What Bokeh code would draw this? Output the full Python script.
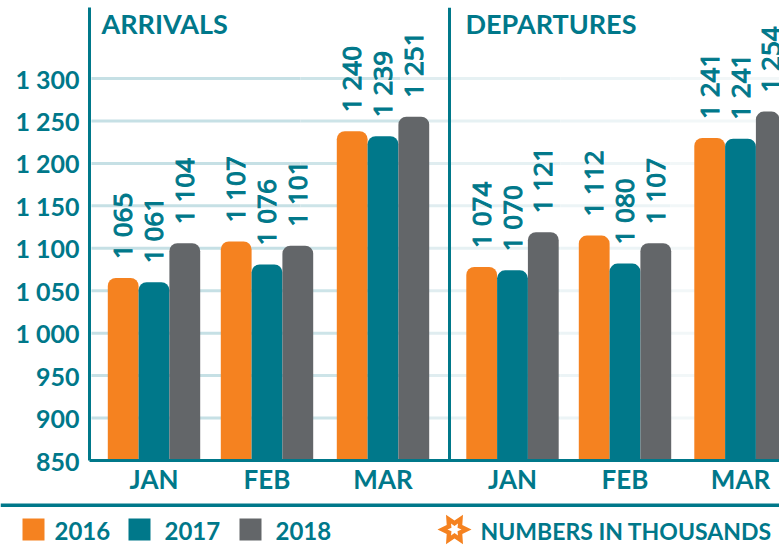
from bokeh.plotting import figure
from bokeh.layouts import column
from bokeh.embed import file_html
from bokeh.resources import INLINE
from bokeh.models import ColumnDataSource, Range1d, FixedTicker, Label, Span
from bokeh.core.properties import value
import math

months = ["JAN", "FEB", "MAR"]
years = ["2016", "2017", "2018"]
y_ticks = [850, 900, 950, 1000, 1050, 1100, 1150, 1200, 1250, 1300]
y_tick_labels = ["850", "900", "950", "1 000", "1 050", "1 100", "1 150", "1 200", "1 250", "1 300"]

arrivals_labels = {"2016": ["1 065", "1 107", "1 240"], "2017": ["1 061", "1 076", "1 239"], "2018": ["1 104", "1 101", "1 251"]}
departures_labels = {"2016": ["1 074", "1 112", "1 241"], "2017": ["1 070", "1 080", "1 241"], "2018": ["1 121", "1 107", "1 254"]}
# Bar heights as drawn in the picture (the drawn bars differ slightly from their printed numbers)
arrivals_bars = {"2016": [1065, 1108, 1238], "2017": [1060, 1081, 1232], "2018": [1106, 1103, 1255]}
departures_bars = {"2016": [1078, 1115, 1230], "2017": [1074, 1082, 1229], "2018": [1119, 1106, 1261]}

TEAL = "#00788A"
colors = {"2016": "#F58220", "2017": "#00788A", "2018": "#636669"}
W, H = 779, 545
TOP_H = 500
FONT = "Lato"
FX, FY = 89, 460  # frame's lower-left corner on the page

p = figure(width=W, height=TOP_H, output_backend="svg", toolbar_location=None,
           x_range=Range1d(89, 779), y_range=Range1d(850, 850 + 453 * 450 / 382),
           min_border_left=89, min_border_right=0, min_border_top=7, min_border_bottom=TOP_H - FY,
           outline_line_color=None, frame_align=False)
p.xgrid.visible = False
p.ygrid.visible = False

# Gridlines, fading from left to right
steps = [(91, 300, "#C6E0E5"), (300, 400, "#CDE4E8"), (400, 449, "#E0EDF0"), (449, 560, "#E6F1F3"),
         (560, 670, "#ECF4F6"), (670, 779, "#F2F7F8")]
for x0, x1, c in steps:
    p.segment(x0=[x0] * len(y_ticks[1:]), x1=[x1] * len(y_ticks[1:]), y0=y_ticks[1:], y1=y_ticks[1:], line_color=c, line_width=3)

# Axes
p.yaxis.ticker = FixedTicker(ticks=y_ticks)
p.yaxis.major_label_overrides = dict(zip(y_ticks, y_tick_labels))
p.yaxis.major_tick_line_color = None
p.yaxis.minor_tick_line_color = None
p.yaxis.axis_line_color = TEAL
p.yaxis.axis_line_width = 3
p.yaxis.major_label_text_color = TEAL
p.yaxis.major_label_text_font = FONT
p.yaxis.major_label_text_font_size = "25px"
p.yaxis.major_label_text_font_style = "bold"
p.yaxis.major_label_standoff = 4

group_centers = [153.5, 266.5, 382.5, 512, 624.5, 740]
p.xaxis.ticker = FixedTicker(ticks=group_centers)
p.xaxis.major_label_overrides = dict(zip(group_centers, months * 2))
p.xaxis.major_tick_line_color = None
p.xaxis.minor_tick_line_color = None
p.xaxis.axis_line_color = TEAL
p.xaxis.axis_line_width = 3
p.xaxis.major_label_text_color = TEAL
p.xaxis.major_label_text_font = FONT
p.xaxis.major_label_text_font_size = "26px"
p.xaxis.major_label_text_font_style = "bold"
p.xaxis.major_label_standoff = -4

# Bars and labels
bw = 30.8
offsets = {"2016": -bw, "2017": 0, "2018": bw}
for yr in years:
    xs = [c + offsets[yr] for c in group_centers]
    tops = arrivals_bars[yr] + departures_bars[yr]
    labels = arrivals_labels[yr] + departures_labels[yr]
    src = ColumnDataSource(dict(x=xs, top=tops, label=labels))
    p.vbar(x="x", top="top", bottom=850, width=bw, source=src, fill_color=colors[yr],
           line_color=None, border_radius={"top_left": 8, "top_right": 8, "bottom_left": 0, "bottom_right": 0})
    p.text(x="x", y="top", text="label", source=src, angle=math.pi / 2, text_align="left", text_baseline="middle",
           y_offset=-19, x_offset=-1, text_color=TEAL, text_font=value("Noto Sans"), text_font_size="26px",
           text_outline_color=TEAL)

# Panel divider
p.add_layout(Span(location=449, dimension="height", line_color=TEAL, line_width=3))

for txt, x in [("ARRIVALS", 101), ("DEPARTURES", 465)]:
    p.add_layout(Label(x=x - FX, y=FY - 39, x_units="screen", y_units="screen", text=txt, text_color=TEAL,
                       text_font=FONT, text_font_size="27px", text_font_style="bold"))

# Footer: a figure of its own, in page pixels
f = figure(width=W, height=H - TOP_H, output_backend="svg", toolbar_location=None,
           x_range=Range1d(0, W), y_range=Range1d(H, TOP_H),
           min_border=0, outline_line_color=None, x_axis_location=None, y_axis_location=None, frame_align=False)
f.grid.visible = False

f.quad(left=0, right=W, top=503, bottom=506.5, fill_color=TEAL, line_color=None)

swatch_x = [22, 128, 239]
label_x = [54, 164, 275]
for x, tx, yr in zip(swatch_x, label_x, years):
    f.quad(left=x, right=x + 22, top=518, bottom=540, fill_color=colors[yr], line_color=None)
    f.text(x=[tx], y=[530], text=[yr], text_color=TEAL, text_font=value(FONT), text_font_size="24px",
           text_font_style="bold", text_baseline="middle", text_align="left")

f.text(x=[480], y=[530], text=["NUMBERS IN THOUSANDS"], text_color=TEAL, text_font=value(FONT), text_font_size="23px",
       text_font_style="bold", text_baseline="middle", text_align="left")

cx, cy = 454, 529
def star(r_out, r_in):
    xs, ys = [], []
    for k in range(12):
        r = r_out if k % 2 == 0 else r_in
        a = math.radians(30 * k)
        xs.append(cx + r * math.cos(a))
        ys.append(cy + r * math.sin(a))
    return xs, ys

for (xs, ys), col in [(star(17, 9), "#F58220"), (star(7, 3.5), "#FFFFFF")]:
    f.patch(x=xs, y=ys, fill_color=col, line_color=None)

open("out.html", "w").write(file_html(column(p, f, spacing=0), INLINE))
